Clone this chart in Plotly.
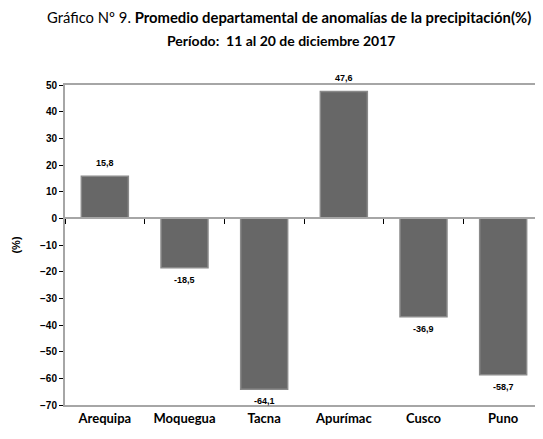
import plotly.graph_objects as go

categories = ["Arequipa", "Moquegua", "Tacna", "Apurímac", "Cusco", "Puno"]
values = [15.8, -18.5, -64.1, 47.6, -36.9, -58.7]
y_ticks = list(range(-70, 51, 10))
title_line1 = "Gráfico Nº 9. <b>Promedio departamental de anomalías de la precipitación(%)</b>"
title_line2 = "<b>Período:  11 al 20 de diciembre 2017</b>"

FONT = "Lato, Open Sans, sans-serif"
NARROW = "Liberation Sans, Arial, sans-serif"
GRAY = "#a6a6a6"

fig = go.Figure()
fig.add_trace(go.Bar(
    x=categories, y=values,
    marker=dict(color="#676767", line=dict(color="#8a8a8a", width=1.5)),
    width=0.59,
    hoverinfo="skip",
))
fig.add_trace(go.Scatter(x=categories, y=[0]*len(categories), xaxis="x2",
                         mode="markers", marker=dict(opacity=0), showlegend=False,
                         hoverinfo="skip"))

for c, v in zip(categories, values):
    fig.add_annotation(x=c, y=v, text=f"{v:.1f}".replace(".", ","), showarrow=False,
                       xanchor="center", yanchor="middle", yshift=13 if v >= 0 else -12,
                       font=dict(family=NARROW, size=9, color="black", weight="bold"))

fig.add_annotation(text=title_line1, xref="paper", yref="paper", x=0.4686, y=1.2125,
                   xanchor="center", yanchor="middle", showarrow=False,
                   font=dict(family=FONT, size=14.8, color="black"))
fig.add_annotation(text=title_line2, xref="paper", yref="paper", x=0.451, y=1.1406,
                   xanchor="center", yanchor="middle", showarrow=False,
                   font=dict(family=FONT, size=14, color="black"))

fig.update_layout(
    template="none",
    width=535, height=431,
    margin=dict(l=57, r=0, t=77, b=34, autoexpand=False),
    paper_bgcolor="white", plot_bgcolor="white",
    separators=",.",
    showlegend=False,
    xaxis=dict(
        type="category", showline=True, linecolor=GRAY, linewidth=2, mirror=True,
        ticks="", showgrid=False, automargin=False,
        tickfont=dict(family=FONT, size=13, color="black", weight="bold"),
    ),
    xaxis2=dict(
        type="category", overlaying="x", matches="x", anchor="free", position=70/120,
        showline=True, linecolor=GRAY, linewidth=2, ticks="outside", tickson="boundaries",
        ticklen=5, tickcolor="black", tickwidth=1, showticklabels=False, showgrid=False,
        automargin=False,
    ),
    yaxis=dict(
        range=[-70, 50], tickvals=y_ticks, showline=True, linecolor=GRAY, linewidth=2,
        ticks="outside", ticklen=4, tickcolor="black", showgrid=False, zeroline=False,
        automargin=False,
        tickfont=dict(family=NARROW, size=10, color="black", weight="bold"),
        title=dict(text="(%)", standoff=17, font=dict(family=NARROW, size=11, color="black", weight="bold")),
    ),
)
fig.write_html("out.html")
